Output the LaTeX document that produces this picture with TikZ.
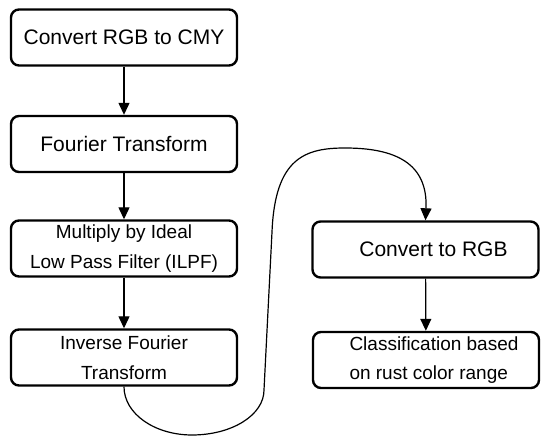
\documentclass[tikz,border=0pt]{standalone}
\usepackage{fontspec}
\setmainfont{Liberation Sans}
\usepackage{tikz}
\usetikzlibrary{arrows.meta}

\begin{document}
\begin{tikzpicture}[x=1pt, y=1pt,
      stage/.style={draw, line width=2.4pt, rounded corners=8pt,
        minimum width=226pt, minimum height=56pt, inner sep=0pt,
        align=center},
      big/.style={font=\fontsize{21}{26}\selectfont},
      small/.style={font=\fontsize{19}{29.5}\selectfont},
      flow/.style={-{Triangle[length=12pt, width=11pt]}, line width=1.2pt},
    ]
    \useasboundingbox (0,0) rectangle (550,448);

    % Left column
    \node[stage, big] (rgbcmy) at (124, 410.5) {Convert RGB to CMY};
    \node[stage, big] (fourier) at (124, 304) {Fourier Transform};
    \node[stage, small] (ilpf) at (124, 199.5)
      {Multiply by Ideal\\Low Pass Filter (ILPF)};
    \node[stage, small] (inverse) at (124, 90.5)
      {Inverse Fourier\\Transform};

    % Right column
    \node[stage, big] (cmyrgb) at (425.5, 198.5)
      {\hspace*{16pt}Convert to RGB};
    \node[stage, small, align=left] (classify) at (426, 88)
      {\hspace*{16pt}Classification based\\\hspace*{16pt}on rust color range};

    % Arrows
    \draw[flow] (rgbcmy) -- (fourier);
    \draw[flow] (fourier) -- (ilpf);
    \draw[flow] (ilpf) -- (inverse);
    \draw[flow] (cmyrgb) -- (classify);
    \draw[flow] (inverse.south) .. controls (124,34) and (155,13) .. (192,13)
      .. controls (232,13) and (264,33) .. (264,58) -- (272,216)
      .. controls (275,290) and (305,300) .. (345,300)
      .. controls (395,300) and (428,285) .. (cmyrgb.north);
  \end{tikzpicture}
\end{document}
